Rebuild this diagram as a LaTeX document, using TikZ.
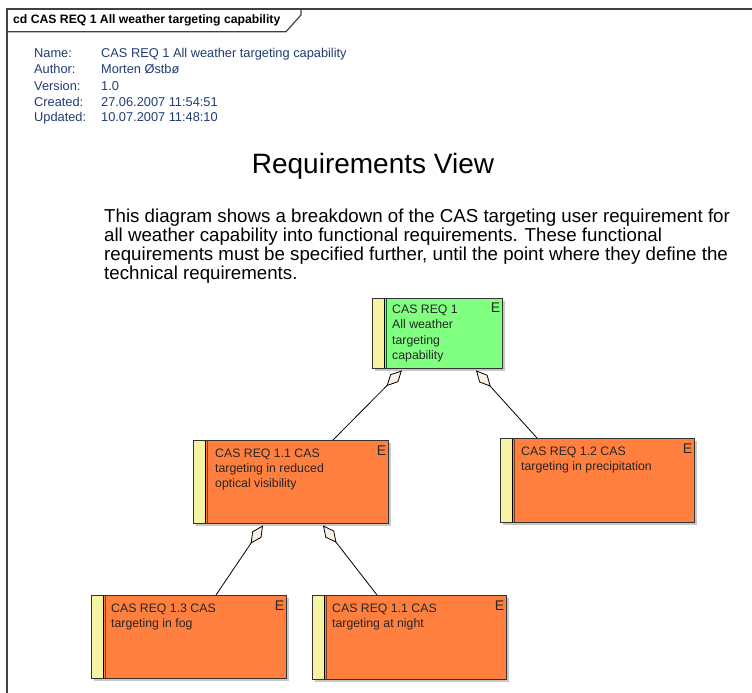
\documentclass[tikz,border=0pt]{standalone}
\usepackage{fontspec}
\setmainfont{Liberation Sans}
\usetikzlibrary{arrows.meta,calc,shadows}

\definecolor{reqgreen}{HTML}{80FF80}
\definecolor{reqorange}{HTML}{FF7F3F}
\definecolor{stripyellow}{HTML}{F6F3A2}
\definecolor{diamondfill}{HTML}{FBF0E1}
\definecolor{metablue}{HTML}{1F3C73}
\definecolor{framegray}{HTML}{404040}

\tikzset{
  frameline/.style={draw=framegray, line width=1.2pt},
  meta/.style={anchor=base west, inner sep=0pt, text=metablue,
    font=\fontsize{12.8}{14}\selectfont},
  reqbox/.style n args={4}{draw=black!80, line width=0.9pt, fill=#1,
    minimum width=#3, minimum height=#4, inner sep=0pt, anchor=north west,
    drop shadow={shadow xshift=3pt, shadow yshift=-3pt, fill=black!22, opacity=1},
    path picture={
      \fill[stripyellow] (path picture bounding box.north west)
        rectangle ($(path picture bounding box.south west)+(12,0)$);
      \draw[black, line width=0.9pt]
        ($(path picture bounding box.north west)+(12,0)$) --
        ($(path picture bounding box.south west)+(12,0)$);
      \draw[#2, line width=0.9pt]
        ($(path picture bounding box.north west)+(14.2,0)$) --
        ($(path picture bounding box.south west)+(14.2,0)$);
    }},
  boxtext/.style={anchor=north west, align=left, inner sep=0pt, text=black!85,
    font=\fontsize{12.3}{15.4}\selectfont},
  etag/.style={anchor=base east, inner sep=0pt, text=black!85,
    font=\fontsize{14}{14}\selectfont},
  agg/.style={draw=black, line width=0.8pt,
    {Diamond[length=22pt, width=11pt, fill=diamondfill]}-}
}

\begin{document}
\begin{tikzpicture}[x=1pt, y=-1pt]
  \useasboundingbox (0,0) rectangle (752,693);

  % diagram frame and its title tab
  \draw[frameline] (7,700) -- (7,9) -- (760,9);
  \draw[frameline] (7,31.7) -- (286,31.7) -- (301,15) -- (301,9);
  \node[anchor=base west, inner sep=0pt,
        font=\bfseries\fontsize{12.2}{14}\selectfont] (title) at (13,24)
        {cd CAS REQ 1 All weather targeting capability};

  % diagram properties
  \node[meta] (kname) at (34,58)    {Name:};
  \node[meta] (kauth) at (34,74)    {Author:};
  \node[meta] (kver)  at (34,90)    {Version:};
  \node[meta] (kcre)  at (34,106)   {Created:};
  \node[meta] (kupd)  at (34,121.8) {Updated:};
  \node[meta] (vname) at (101,58)    {CAS REQ 1 All weather targeting capability};
  \node[meta] (vauth) at (101,74)    {Morten Østbø};
  \node[meta] (vver)  at (101,90)    {1.0};
  \node[meta] (vcre)  at (101,106)   {27.06.2007 11:54:51};
  \node[meta] (vupd)  at (101,121.8) {10.07.2007 11:48:10};

  % heading and description
  \node[anchor=base, inner sep=0pt, font=\fontsize{28}{30}\selectfont]
    (heading) at (373,173) {Requirements View};
  \node[anchor=north west, align=left, inner sep=0pt,
        font=\fontsize{18.7}{19}\selectfont] (descr) at (104,208.5)
    {This diagram shows a breakdown of the CAS targeting user requirement for\\
     all weather capability into functional requirements. These functional\\
     requirements must be specified further, until the point where they define the\\
     technical requirements.};

  % requirement elements
  \node[reqbox={reqgreen}{green!40!black}{130pt}{70pt}] (g) at (372,298) {};
  \node[boxtext] (gt) at ($(g.north west)+(20,6.8)$)
    {CAS REQ 1\\All weather\\targeting\\capability};
  \node[etag] (ge) at ($(g.north east)+(-2.4,14.7)$) {E};

  \node[reqbox={reqorange}{reqorange!50!black}{195pt}{83pt}] (r11) at (193,440) {};
  \node[boxtext] (r11t) at ($(r11.north west)+(22,8.4)$)
    {CAS REQ 1.1 CAS\\targeting in reduced\\optical visibility};
  \node[etag] (r11e) at ($(r11.north east)+(-2.4,15)$) {E};

  \node[reqbox={reqorange}{reqorange!50!black}{194pt}{84pt}] (r12) at (500,438) {};
  \node[boxtext] (r12t) at ($(r12.north west)+(21,8.4)$)
    {CAS REQ 1.2 CAS\\targeting in precipitation};
  \node[etag] (r12e) at ($(r12.north east)+(-2.4,15)$) {E};

  \node[reqbox={reqorange}{reqorange!50!black}{195pt}{83pt}] (r13) at (91,595) {};
  \node[boxtext] (r13t) at ($(r13.north west)+(20,8.4)$)
    {CAS REQ 1.3 CAS\\targeting in fog};
  \node[etag] (r13e) at ($(r13.north east)+(-2.4,15)$) {E};

  \node[reqbox={reqorange}{reqorange!50!black}{194pt}{84pt}] (r14) at (312,595) {};
  \node[boxtext] (r14t) at ($(r14.north west)+(20,8.4)$)
    {CAS REQ 1.1 CAS\\targeting at night};
  \node[etag] (r14e) at ($(r14.north east)+(-2.4,15)$) {E};

  % aggregation connectors, diamond at the whole
  \draw[agg] ($(g.south west)+(30,1.5)$)   -- ($(r11.north west)+(140,0)$);
  \draw[agg] ($(g.south west)+(104,1.5)$)  -- ($(r12.north west)+(37,0)$);
  \draw[agg] ($(r11.south west)+(70,1.5)$) -- ($(r13.north west)+(125,0)$);
  \draw[agg] ($(r11.south west)+(130,1.5)$) -- ($(r14.north west)+(65,0)$);
\end{tikzpicture}
\end{document}
